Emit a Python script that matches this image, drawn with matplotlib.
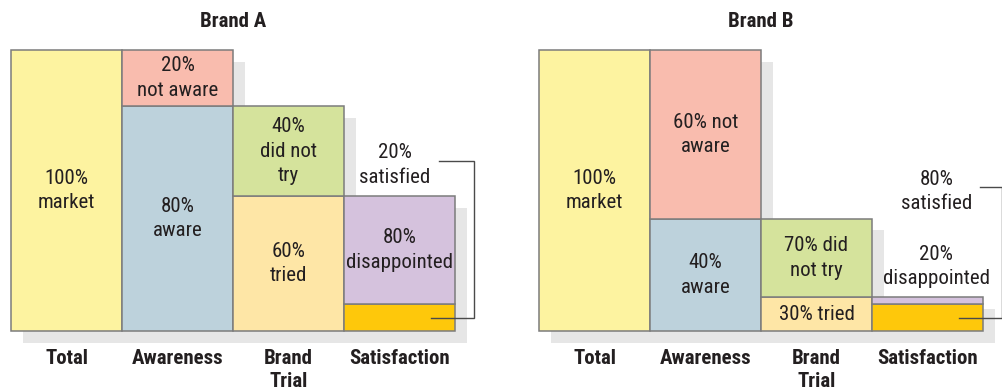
import matplotlib
matplotlib.use("Agg")
import matplotlib.pyplot as plt
from matplotlib.patches import Rectangle
from matplotlib import font_manager

# ---- data -------------------------------------------------------------
brands = ['Brand A', 'Brand B']
stages = ['Total', 'Awareness', 'Brand\nTrial', 'Satisfaction']
aware_pct = [80, 40]        # share of market aware of the brand
tried_pct = [60, 30]        # share of aware who tried it
satisfied_pct = [20, 80]    # share of triers who were satisfied

total_labels = ['100%\nmarket', '100%\nmarket']
not_aware_labels = ['20%\nnot aware', '60% not\naware']
aware_labels = ['80%\naware', '40%\naware']
not_tried_labels = ['40%\ndid not\ntry', '70% did\nnot try']
tried_labels = ['60%\ntried', '30% tried']
disappointed_labels = ['80%\ndisappointed', '20%\ndisappointed']
satisfied_labels = ['20%\nsatisfied', '80%\nsatisfied']

# ---- fonts: prefer a narrow sans ----------------------------------------
ttf = font_manager.fontManager.ttflist
names = {f.name for f in ttf}
FONT, STRETCH = None, 'normal'
for cand in ['Liberation Sans Narrow', 'Roboto Condensed', 'Open Sans Condensed',
             'Noto Sans Condensed', 'DejaVu Sans Condensed']:
    if cand in names:
        FONT = cand
        break
if FONT is None:
    narrow = [f for f in ttf if str(f.stretch) in
              ('condensed', 'semi-condensed', 'extra-condensed')]
    order = ['Roboto', 'Open Sans', 'Noto Sans', 'Liberation Sans', 'DejaVu Sans', 'Inter', 'Lato']
    for fam in order:
        if any(f.name == fam for f in narrow):
            FONT, STRETCH = fam, 'condensed'
            break
if FONT is None:
    FONT = 'Liberation Sans'
plt.rcParams['font.family'] = [FONT, 'DejaVu Sans']
plt.rcParams['font.stretch'] = STRETCH

C_TOTAL = '#fdf3a0'
C_NOT_AWARE = '#f9bcae'
C_AWARE = '#bdd2dc'
C_NOT_TRIED = '#d5e39c'
C_TRIED = '#fee6a6'
C_DISAPP = '#d5c2dd'
C_SATIS = '#fec80b'
C_SHADOW = '#e6e6e6'
C_EDGE = '#7c7c7c'
C_TEXT = '#231f20'
C_BRACKET = '#4a4a4a'

FS = 15
LS = 1.37
W, H = 1002, 390
fig = plt.figure(figsize=(W / 100, H / 100), dpi=100)

col_px, top_px, bot_px = 111, 50, 331
panel_left = [11, 539]
outside_x = [3.46, 3.58]

# shadow offset expressed in column/fraction units
sdx = 12 / col_px
sdy = 11.5 / (bot_px - top_px)

for b, brand in enumerate(brands):
    ax = fig.add_axes([panel_left[b] / W, (H - bot_px) / H,
                       4 * col_px / W, (bot_px - top_px) / H])
    ax.set_xlim(0, 4)
    ax.set_ylim(0, 1)
    ax.axis('off')

    aware = aware_pct[b] / 100
    tried = aware * tried_pct[b] / 100
    satis = tried * satisfied_pct[b] / 100

    # stacked segments per column: (bottom, height, colour, label)
    columns = [
        [(0, 1, C_TOTAL, total_labels[b])],
        [(0, aware, C_AWARE, aware_labels[b]),
         (aware, 1 - aware, C_NOT_AWARE, not_aware_labels[b])],
        [(0, tried, C_TRIED, tried_labels[b]),
         (tried, aware - tried, C_NOT_TRIED, not_tried_labels[b])],
        [(0, satis, C_SATIS, None),
         (satis, tried - satis, C_DISAPP, disappointed_labels[b])],
    ]

    # drop shadows
    for i, segs in enumerate(columns):
        height = sum(s[1] for s in segs)
        ax.add_patch(Rectangle((i + sdx, -sdy), 1, height, facecolor=C_SHADOW,
                               edgecolor='none', zorder=0, clip_on=False))

    outside = []
    for i, segs in enumerate(columns):
        for y0, h, color, label in segs:
            ax.add_patch(Rectangle((i, y0), 1, h, facecolor=color,
                                   edgecolor=C_EDGE, linewidth=1.1, zorder=2,
                                   clip_on=False))
            if label is None:
                continue
            if h >= 0.12:
                ax.text(i + 0.5, y0 + h / 2, label, ha='center', va='center',
                        fontsize=FS, color=C_TEXT, linespacing=LS, zorder=3)
            else:
                outside.append(label)

    # labels stacked above the satisfaction column
    col_top = tried
    ly = col_top + 0.11
    for label in outside:
        ax.text(outside_x[b], ly, label, ha='center', va='center', fontsize=FS,
                color=C_TEXT, linespacing=LS, zorder=3, clip_on=False)
        ly += 0.267
    ax.text(outside_x[b], ly, satisfied_labels[b], ha='center', va='center',
            fontsize=FS, color=C_TEXT, linespacing=LS, zorder=3, clip_on=False)

    # bracket joining the satisfied label to its segment
    bx = 4.167
    ax.plot([outside_x[b] + 0.396, bx, bx, 3.78],
            [ly + 0.014, ly + 0.014, satis / 2, satis / 2],
            color=C_BRACKET, lw=1.0, zorder=4, clip_on=False,
            solid_joinstyle='miter')

    # stage names and title
    for i, stage in enumerate(stages):
        ax.text(i + 0.5, -0.064, stage, ha='center', va='top', fontsize=FS,
                fontweight='bold', color=C_TEXT, linespacing=1.25)
    ax.text(2, 1.1, brand, ha='center', va='center', fontsize=FS,
            fontweight='bold', color=C_TEXT)

fig.savefig('out.png', dpi=100, facecolor='white')
